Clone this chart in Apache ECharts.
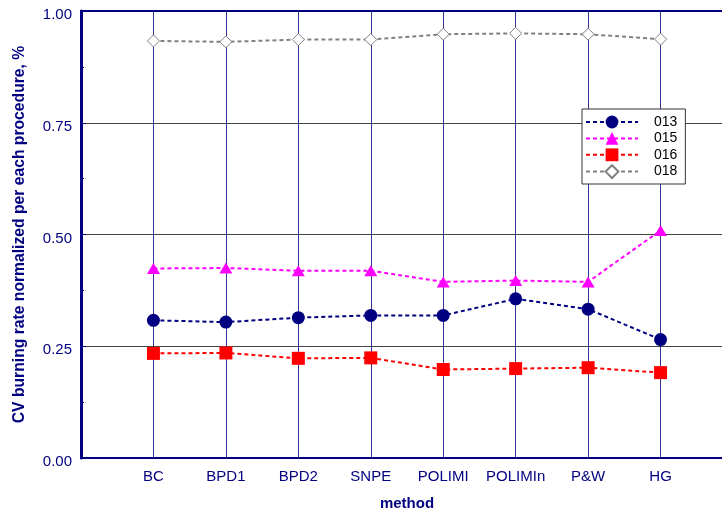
<!DOCTYPE html>
<html>
<head>
<meta charset="utf-8">
<script src="https://cdn.jsdelivr.net/npm/echarts@6/dist/echarts.min.js"></script>
<style>
  html, body { margin: 0; padding: 0; background: #fff; }
  #chart { width: 722px; height: 511px; }
</style>
</head>
<body>
<div id="chart"></div>
<script>
// Methods along the x axis (placed at positions 1..8)
const categories = ['BC', 'BPD1', 'BPD2', 'SNPE', 'POLIMI', 'POLIMIn', 'P&W', 'HG'];

// Normalized CV burning rate per procedure
const s013 = [0.308, 0.304, 0.314, 0.319, 0.319, 0.356, 0.333, 0.265];
const s015 = [0.424, 0.425, 0.419, 0.419, 0.394, 0.397, 0.394, 0.509];
const s016 = [0.234, 0.235, 0.223, 0.224, 0.198, 0.200, 0.202, 0.191];
const s018 = [0.933, 0.931, 0.936, 0.936, 0.948, 0.950, 0.948, 0.937];

const yTicks = [0, 0.25, 0.5, 0.75, 1.0];

const NAVY = '#000080';
const FONT = 'Liberation Sans, Arial, sans-serif';

function pairs(values) {
  return values.map((v, i) => [i + 1, v]);
}

function lineSeries(name, values, color, symbol, size, fill) {
  return {
    name: name,
    type: 'line',
    data: pairs(values),
    symbol: symbol,
    symbolSize: size,
    showSymbol: true,
    lineStyle: { color: color, width: 2, type: [4, 3] },
    itemStyle: { color: fill || color, borderColor: color, borderWidth: fill ? 1 : 0 },
    emphasis: { disabled: true },
    animation: false,
    z: 3
  };
}

const chart = echarts.init(document.getElementById('chart'), null, { renderer: 'canvas' });

chart.setOption({
  animation: false,
  backgroundColor: '#fff',
  grid: {
    left: 81, top: 11, width: 652, height: 447,
    outerBoundsMode: 'none',
    containLabel: false,
    show: true, borderColor: NAVY, borderWidth: 2, backgroundColor: 'transparent'
  },
  legend: {
    orient: 'vertical',
    left: 582, top: 109,
    backgroundColor: '#fff',
    borderColor: '#333',
    borderWidth: 1,
    borderRadius: 0,
    padding: [6, 8, 5, 3],
    itemGap: 2.4,
    itemWidth: 52,
    itemHeight: 16,
    textStyle: { color: '#000', fontSize: 14, fontFamily: FONT, padding: [0, 0, 0, 11] },
    data: ['013', '015', '016', '018']
  },
  xAxis: {
    type: 'value',
    min: 0, max: 9, interval: 1,
    name: 'method',
    nameLocation: 'middle',
    nameGap: 38.5,
    nameTextStyle: { color: NAVY, fontSize: 15, fontWeight: 'bold', fontFamily: FONT },
    axisLine: { show: true, onZero: false, lineStyle: { color: NAVY, width: 2 } },
    axisTick: { show: false },
    axisLabel: {
      color: NAVY, fontSize: 15, fontFamily: FONT, margin: 11,
      formatter: v => (v >= 1 && v <= categories.length) ? categories[v - 1] : ''
    },
    splitLine: { show: true, lineStyle: { color: NAVY, width: 1, opacity: 0.8 } }
  },
  yAxis: {
    type: 'value',
    min: yTicks[0], max: yTicks[yTicks.length - 1], interval: 0.25,
    name: 'CV burning rate normalized per each procedure, %',
    nameLocation: 'middle',
    nameGap: 53,
    nameTextStyle: { color: NAVY, fontSize: 15.7, fontWeight: 'bold', fontFamily: FONT },
    axisLine: { show: true, lineStyle: { color: NAVY, width: 3 } },
    axisTick: { show: true, inside: true, length: 5, lineStyle: { color: NAVY, width: 1 } },
    minorTick: { show: true, splitNumber: 2, length: 3, lineStyle: { color: NAVY, width: 1 } },
    axisLabel: {
      color: NAVY, fontSize: 15, fontFamily: FONT, margin: 9,
      verticalAlign: 'top',
      lineHeight: 8,
      formatter: v => v.toFixed(2)
    },
    splitLine: {
      show: true,
      lineStyle: { color: [NAVY, '#444', '#444', '#444', NAVY], width: 1 }
    }
  },
  series: [
    lineSeries('013', s013, NAVY, 'circle', 13),
    lineSeries('015', s015, '#ff00ff', 'triangle', [13, 11]),
    lineSeries('016', s016, '#ff0000', 'rect', 13),
    lineSeries('018', s018, '#808080', 'diamond', 12, '#ffffff')
  ]
});
</script>
</body>
</html>
